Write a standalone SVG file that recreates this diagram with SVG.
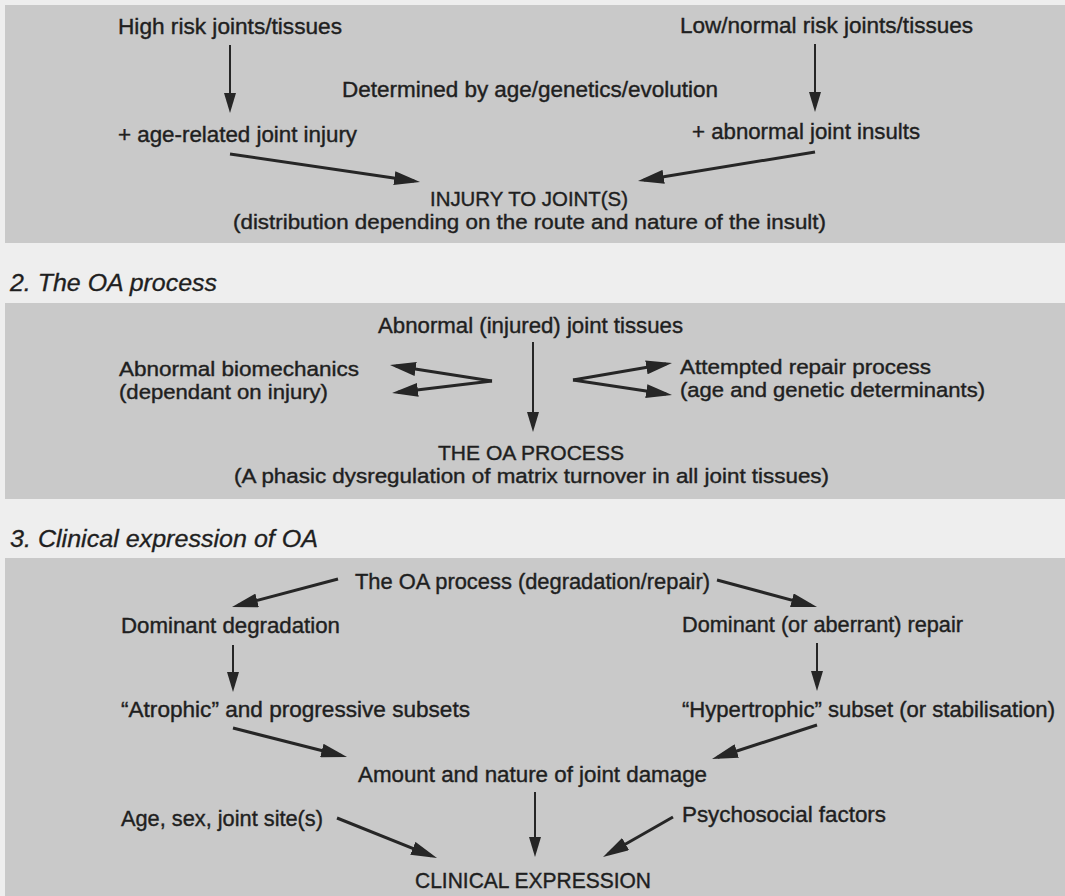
<svg xmlns="http://www.w3.org/2000/svg" width="1065" height="896" viewBox="0 0 1065 896">
  <style>
    .bg { fill: #eeeeee; }
    .panel { fill: #c9c9c9; }
    .t { font-family: "Liberation Sans", Arial, sans-serif; font-size: 22px; fill: #1f1f1f; stroke: #1f1f1f; stroke-width: 0.4; }
    .t2 { font-size: 20.5px; }
    .h { font-family: "Liberation Sans", Arial, sans-serif; font-size: 23px; font-style: italic; fill: #1f1f1f; stroke: #1f1f1f; stroke-width: 0.3; }
    .thin { stroke: #262626; stroke-width: 2; fill: none; marker-end: url(#av); }
    .thick { stroke: #262626; stroke-width: 3; fill: none; marker-end: url(#ah); }
  </style>
  <defs>
    <marker id="ah" markerUnits="userSpaceOnUse" markerWidth="26" markerHeight="14" refX="20" refY="7" orient="auto">
      <path d="M0,0 L26,7 L0,14 Z" fill="#262626"/>
    </marker>
    <marker id="av" markerUnits="userSpaceOnUse" markerWidth="20" markerHeight="12" refX="15" refY="6" orient="auto">
      <path d="M0,0 L20,6 L0,12 Z" fill="#262626"/>
    </marker>
  </defs>

  <rect class="bg" x="0" y="0" width="1065" height="896"/>
  <rect class="panel" x="5" y="5" width="1060" height="238"/>
  <rect class="panel" x="5" y="303" width="1060" height="196"/>
  <rect class="panel" x="5" y="558" width="1060" height="338"/>

  <g id="heading-2"><text class="h" x="10" y="291" textLength="207" lengthAdjust="spacingAndGlyphs">2. The OA process</text></g>
  <g id="heading-3"><text class="h" x="10" y="547" textLength="308" lengthAdjust="spacingAndGlyphs">3. Clinical expression of OA</text></g>

  <!-- Panel 1 -->
  <g id="high-risk"><text class="t" x="118" y="34" textLength="224" lengthAdjust="spacingAndGlyphs">High risk joints/tissues</text></g>
  <g id="low-risk"><text class="t" x="680" y="33" textLength="293" lengthAdjust="spacingAndGlyphs">Low/normal risk joints/tissues</text></g>
  <g id="determined"><text class="t" x="342" y="97" textLength="376" lengthAdjust="spacingAndGlyphs">Determined by age/genetics/evolution</text></g>
  <g id="age-injury"><text class="t" x="118" y="142" textLength="239" lengthAdjust="spacingAndGlyphs">+ age-related joint injury</text></g>
  <g id="abnormal-insults"><text class="t" x="692" y="139" textLength="228" lengthAdjust="spacingAndGlyphs">+ abnormal joint insults</text></g>
  <g id="injury">
    <text class="t t2" x="430" y="206" textLength="198" lengthAdjust="spacingAndGlyphs">INJURY TO JOINT(S)</text>
    <text class="t t2" x="233" y="229" textLength="593" lengthAdjust="spacingAndGlyphs">(distribution depending on the route and nature of the insult)</text>
  </g>

  <!-- Panel 2 -->
  <g id="abnormal-tissues"><text class="t" x="378" y="333" textLength="305" lengthAdjust="spacingAndGlyphs">Abnormal (injured) joint tissues</text></g>
  <g id="biomechanics">
    <text class="t t2" x="119" y="376" textLength="240" lengthAdjust="spacingAndGlyphs">Abnormal biomechanics</text>
    <text class="t t2" x="119" y="399" textLength="209" lengthAdjust="spacingAndGlyphs">(dependant on injury)</text>
  </g>
  <g id="repair-process">
    <text class="t t2" x="680" y="374" textLength="251" lengthAdjust="spacingAndGlyphs">Attempted repair process</text>
    <text class="t t2" x="680" y="397" textLength="305" lengthAdjust="spacingAndGlyphs">(age and genetic determinants)</text>
  </g>
  <g id="oa-process">
    <text class="t t2" x="438" y="460" textLength="186" lengthAdjust="spacingAndGlyphs">THE OA PROCESS</text>
    <text class="t t2" x="234" y="483" textLength="595" lengthAdjust="spacingAndGlyphs">(A phasic dysregulation of matrix turnover in all joint tissues)</text>
  </g>

  <!-- Panel 3 -->
  <g id="oa-deg-repair"><text class="t" x="355" y="589" textLength="355" lengthAdjust="spacingAndGlyphs">The OA process (degradation/repair)</text></g>
  <g id="dom-degradation"><text class="t" x="121" y="633" textLength="219" lengthAdjust="spacingAndGlyphs">Dominant degradation</text></g>
  <g id="dom-repair"><text class="t" x="682" y="632" textLength="281" lengthAdjust="spacingAndGlyphs">Dominant (or aberrant) repair</text></g>
  <g id="atrophic"><text class="t" x="121" y="717" textLength="349" lengthAdjust="spacingAndGlyphs">“Atrophic” and progressive subsets</text></g>
  <g id="hypertrophic"><text class="t" x="682" y="717" textLength="373" lengthAdjust="spacingAndGlyphs">“Hypertrophic” subset (or stabilisation)</text></g>
  <g id="joint-damage"><text class="t" x="358" y="782" textLength="349" lengthAdjust="spacingAndGlyphs">Amount and nature of joint damage</text></g>
  <g id="age-sex"><text class="t" x="121" y="826" textLength="202" lengthAdjust="spacingAndGlyphs">Age, sex, joint site(s)</text></g>
  <g id="psychosocial"><text class="t" x="682" y="822" textLength="204" lengthAdjust="spacingAndGlyphs">Psychosocial factors</text></g>
  <g id="clinical-expression"><text class="t" x="415" y="888" textLength="236" lengthAdjust="spacingAndGlyphs">CLINICAL EXPRESSION</text></g>

  <g id="connectors">
    <line class="thin" x1="230" y1="45" x2="230" y2="108"/>
    <line class="thin" x1="815" y1="44" x2="815" y2="107"/>
    <line class="thick" x1="230" y1="154" x2="414.1" y2="181.1"/>
    <line class="thick" x1="815" y1="152" x2="643.9" y2="180"/>

    <line class="thin" x1="533" y1="342" x2="533" y2="427"/>
    <line class="thick" x1="492" y1="381" x2="395.9" y2="365.9"/>
    <line class="thick" x1="492" y1="381" x2="398" y2="392.3"/>
    <line class="thick" x1="573" y1="380" x2="666.1" y2="364"/>
    <line class="thick" x1="573" y1="380" x2="666.1" y2="394.1"/>

    <line class="thick" x1="338" y1="579" x2="237.8" y2="605.5"/>
    <line class="thick" x1="717" y1="580" x2="811.2" y2="605.4"/>
    <line class="thin" x1="233" y1="645" x2="233" y2="687"/>
    <line class="thin" x1="817" y1="643" x2="817" y2="686"/>
    <line class="thick" x1="233" y1="728" x2="341.2" y2="755.5"/>
    <line class="thick" x1="817" y1="725" x2="717.7" y2="757.2"/>
    <line class="thin" x1="535" y1="792" x2="535" y2="852"/>
    <line class="thick" x1="337" y1="818" x2="431.4" y2="855.8"/>
    <line class="thick" x1="673" y1="817" x2="608.2" y2="854"/>
  </g>
</svg>
